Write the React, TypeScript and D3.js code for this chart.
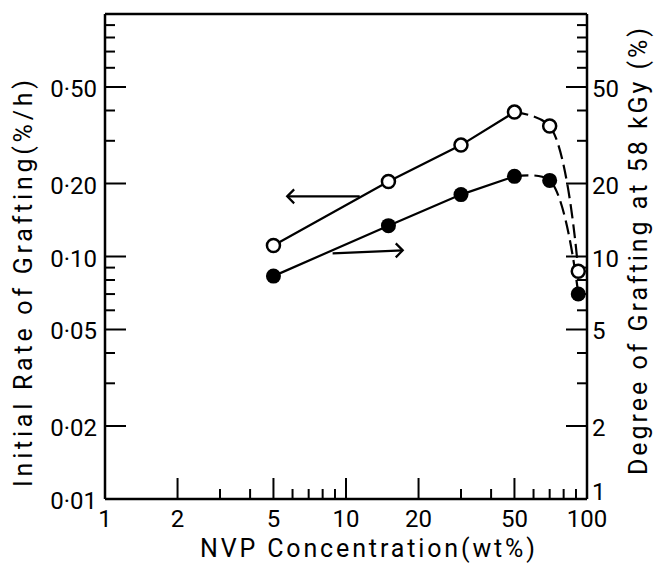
import * as d3 from 'd3';

// NVP concentration (wt%)
const conc = [5, 15, 30, 50, 70, 92];
// initial rate of grafting (%/h), open circles, left axis
const rate = [0.111, 0.204, 0.288, 0.394, 0.345, 0.087];
// degree of grafting at 58 kGy (%), filled circles, right axis
const degree = [8.3, 13.4, 18.0, 21.4, 20.6, 7.0];

const xMajor = [1, 2, 5, 10, 20, 50, 100];
const xMinor = [3, 4, 6, 7, 8, 9, 30, 40, 60, 70, 80, 90];
const leftMajor = [0.01, 0.02, 0.05, 0.1, 0.2, 0.5];
const leftLabels = ['0·01', '0·02', '0·05', '0·10', '0·20', '0·50'];
const leftMinor = [0.03, 0.04, 0.06, 0.07, 0.08, 0.09, 0.3, 0.4, 0.6, 0.7, 0.8, 0.9];
const rightMajor = [1, 2, 5, 10, 20, 50];
const rightMinor = [3, 4, 6, 7, 8, 9, 30, 40, 60, 70, 80, 90];

// arrows telling which axis each curve belongs to
const leftArrow = { y: 0.177, from: 11.4, to: 5.7 };
const rightArrow = { y0: 10.3, y1: 10.6, from: 8.8, to: 17.2 };

const width = 655;
const height = 565;
const m = { left: 105, right: 587, top: 14, bottom: 499 };
const font = 'Roboto, sans-serif';

export default function App() {
    const x = d3.scaleLog([1, 100], [m.left, m.right]);
    const yL = d3.scaleLog([0.01, 1], [m.bottom, m.top]);
    const yR = d3.scaleLog([1, 100], [m.bottom, m.top]);

    const open = conc.map((c, i) => [x(c), yL(rate[i])] as [number, number]);
    const filled = conc.map((c, i) => [x(c), yR(degree[i])] as [number, number]);

    const straight = d3.line();
    const curved = d3.line().curve(d3.curveCatmullRom.alpha(0.5));

    const majorLen = 21;
    const minorLen = 10;

    const lx0 = x(leftArrow.from), lx1 = x(leftArrow.to), ly = yL(leftArrow.y);
    const rx0 = x(rightArrow.from), rx1 = x(rightArrow.to);
    const ry0 = yR(rightArrow.y0), ry1 = yR(rightArrow.y1);

    return (
        <svg width={width} height={height} style={{ position: 'absolute', left: 0, top: 0, background: '#fff' }}>
            {/* frame */}
            <g stroke="#000" strokeWidth={2.5} fill="none">
                <line x1={m.left} x2={m.right} y1={m.top} y2={m.top} />
                <line x1={m.left} x2={m.right} y1={m.bottom} y2={m.bottom} />
                <line x1={m.left} x2={m.left} y1={m.top} y2={m.bottom} />
                <line x1={m.right} x2={m.right} y1={m.top} y2={m.bottom} />
            </g>

            {/* ticks */}
            <g stroke="#000" strokeWidth={2}>
                {xMajor.map((d) => <line key={'xM' + d} x1={x(d)} x2={x(d)} y1={m.bottom} y2={m.bottom - majorLen} />)}
                {xMinor.map((d) => <line key={'xm' + d} x1={x(d)} x2={x(d)} y1={m.bottom} y2={m.bottom - minorLen} />)}
                {leftMajor.map((d) => <line key={'lM' + d} x1={m.left} x2={m.left + majorLen} y1={yL(d)} y2={yL(d)} />)}
                {leftMinor.map((d) => <line key={'lm' + d} x1={m.left} x2={m.left + minorLen} y1={yL(d)} y2={yL(d)} />)}
                {rightMajor.map((d) => <line key={'rM' + d} x1={m.right} x2={m.right - majorLen} y1={yR(d)} y2={yR(d)} />)}
                {rightMinor.map((d) => <line key={'rm' + d} x1={m.right} x2={m.right - minorLen} y1={yR(d)} y2={yR(d)} />)}
            </g>

            {/* tick labels */}
            <g fontFamily={font} fontSize={24} fill="#000">
                {xMajor.map((d) => (
                    <text key={'xl' + d} x={x(d)} y={m.bottom + 28} textAnchor="middle">{d}</text>
                ))}
                {leftMajor.map((d, i) => (
                    <text key={'ll' + d} x={m.left - 8} y={yL(d) + 10} textAnchor="end">{leftLabels[i]}</text>
                ))}
                {rightMajor.map((d) => (
                    <text key={'rl' + d} x={m.right + 5} y={yR(d) + (d === 1 ? 1 : 10)} textAnchor="start">{d}</text>
                ))}
            </g>

            {/* axis titles */}
            <g fontFamily={font} fontSize={25} fill="#000">
                <text x={(200 + 535) / 2} y={557} textAnchor="middle" textLength={335} lengthAdjust="spacing">
                    NVP Concentration(wt%)
                </text>
                <text transform={`translate(32,${(80 + 487) / 2}) rotate(-90)`} textAnchor="middle" textLength={407} lengthAdjust="spacing">
                    Initial Rate of Grafting(%/h)
                </text>
                <text transform={`translate(647,${(28 + 475) / 2}) rotate(-90)`} textAnchor="middle" textLength={447} lengthAdjust="spacing">
                    Degree of Grafting at 58 kGy (%)
                </text>
            </g>

            {/* curves */}
            <g stroke="#000" strokeWidth={2.2} fill="none">
                <path d={straight(open.slice(0, 4)) ?? ''} />
                <path d={straight(filled.slice(0, 4)) ?? ''} />
                <path d={curved(open.slice(3)) ?? ''} strokeDasharray="14 6" />
                <path d={curved(filled.slice(3)) ?? ''} strokeDasharray="14 6" />
            </g>

            {/* arrows */}
            <g stroke="#000" strokeWidth={2.2} fill="none" strokeLinejoin="miter">
                <line x1={lx0} y1={ly} x2={lx1} y2={ly} />
                <path d={`M${lx1 + 7},${ly - 7}L${lx1},${ly}L${lx1 + 7},${ly + 7}`} />
                <line x1={rx0} y1={ry0} x2={rx1} y2={ry1} />
                <path d={`M${rx1 - 7},${ry1 - 7}L${rx1},${ry1}L${rx1 - 7},${ry1 + 7}`} />
            </g>

            {/* markers */}
            <g>
                {open.map(([cx, cy], i) => (
                    <circle key={'o' + i} cx={cx} cy={cy} r={6.5} fill="#fff" stroke="#000" strokeWidth={2.5} />
                ))}
                {filled.map(([cx, cy], i) => (
                    <circle key={'f' + i} cx={cx} cy={cy} r={7.5} fill="#000" stroke="none" />
                ))}
            </g>
        </svg>
    );
}
